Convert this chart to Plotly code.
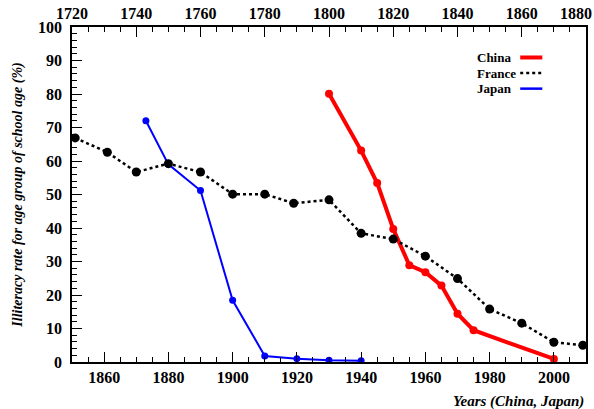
import plotly.graph_objects as go

# Illiteracy rate for school-age group (%)
china_years = [1930, 1940, 1945, 1950, 1955, 1960, 1965, 1970, 1975, 2000]
china_rate = [80.1, 63.1, 53.4, 39.7, 28.9, 26.8, 22.8, 14.4, 9.5, 0.9]

japan_years = [1873, 1880, 1890, 1900, 1910, 1920, 1930, 1940]
japan_rate = [72.0, 59.0, 51.2, 18.4, 1.8, 1.0, 0.5, 0.4]

# France is plotted against the top axis (1720-1880)
france_years = [1721, 1731, 1740, 1750, 1760, 1770, 1780, 1789, 1800, 1810, 1820,
                1830, 1840, 1850, 1860, 1870, 1879]
france_rate = [66.9, 62.6, 56.7, 59.2, 56.7, 50.1, 50.1, 47.4, 48.4, 38.4, 36.7,
               31.6, 24.9, 15.8, 11.6, 5.9, 5.0]

top_ticks = [1720, 1740, 1760, 1780, 1800, 1820, 1840, 1860]
top_last_tick = 1880

FONT = "Liberation Serif"

fig = go.Figure()

fig.add_trace(go.Scatter(
    x=france_years, y=france_rate, xaxis="x2", mode="lines+markers", name="France",
    line=dict(color="black", width=2.5, dash="dot"),
    marker=dict(color="black", size=9), showlegend=False))

fig.add_trace(go.Scatter(
    x=japan_years, y=japan_rate, mode="lines+markers", name="Japan",
    line=dict(color="#0000ff", width=2),
    marker=dict(color="#0000ff", size=7), showlegend=False))

fig.add_trace(go.Scatter(
    x=china_years, y=china_rate, mode="lines+markers", name="China",
    line=dict(color="#ff0000", width=4),
    marker=dict(color="#ff0000", size=8), showlegend=False))

tick_font = dict(family=FONT, size=16, color="black", weight="bold")

common_x = dict(
    showline=True, linecolor="black", linewidth=1.5, showgrid=False, zeroline=False,
    ticks="inside", ticklen=10, tickwidth=1, tickcolor="black",
    minor=dict(dtick=5, ticks="inside", ticklen=5, tickwidth=1, tickcolor="black"),
    tickfont=tick_font, automargin=False,
)

fig.update_layout(
    width=594, height=409,
    margin=dict(l=72, r=8, t=27, b=47),
    plot_bgcolor="white", paper_bgcolor="white",
    xaxis=dict(range=[1850, 2010], tick0=1860, dtick=20, **common_x),
    xaxis2=dict(range=[1720, 1880], overlaying="x", side="top",
                tickmode="array", tickvals=top_ticks + [top_last_tick],
                ticktext=[str(v) for v in top_ticks] + [""], **common_x),
    yaxis=dict(
        range=[0, 100], dtick=10, showline=True, linecolor="black", linewidth=1.5,
        mirror=True, showgrid=False, zeroline=False, automargin=False,
        ticks="inside", ticklen=10, tickwidth=1, tickcolor="black",
        minor=dict(dtick=2, ticks="inside", ticklen=5, tickwidth=1, tickcolor="black"),
        tickfont=tick_font, ticklabelstandoff=5,
        title=dict(text="<b><i>Illiteracy rate for age group of school age (%)</i></b>",
                   font=dict(family=FONT, size=14, color="black"), standoff=12),
    ),
    showlegend=False,
)

# Last top-axis label, pulled inside the page edge
fig.add_annotation(
    text=f"<b>{top_last_tick}</b>", xref="paper", yref="paper",
    x=(594 - 72) / 514, y=1.0, xanchor="right", yanchor="bottom", yshift=3,
    showarrow=False, font=dict(family=FONT, size=16, color="black"))

# Axis title for the bottom (China, Japan) year scale
fig.add_annotation(
    text="<b><i>Years (China, Japan)</i></b>", xref="paper", yref="paper",
    x=1.0, y=-0.118, xanchor="right", yanchor="middle", showarrow=False,
    font=dict(family=FONT, size=15, color="black"))

# Legend with line samples to the right of the labels
legend_items = [
    ("China", dict(color="#ff0000", width=4)),
    ("France", dict(color="black", width=2.5, dash="dot")),
    ("Japan", dict(color="#0000ff", width=2.5)),
]
for i, (label, style) in enumerate(legend_items):
    yy = 0.909 - i * 0.0465
    fig.add_annotation(
        text=f"<b>{label}</b>", xref="paper", yref="paper", x=0.784, y=yy,
        xanchor="left", yanchor="middle", showarrow=False,
        font=dict(family=FONT, size=13, color="black"))
    fig.add_shape(type="line", xref="paper", yref="paper",
                  x0=0.872, x1=0.915, y0=yy, y1=yy, line=style)

fig.write_html("out.html")
